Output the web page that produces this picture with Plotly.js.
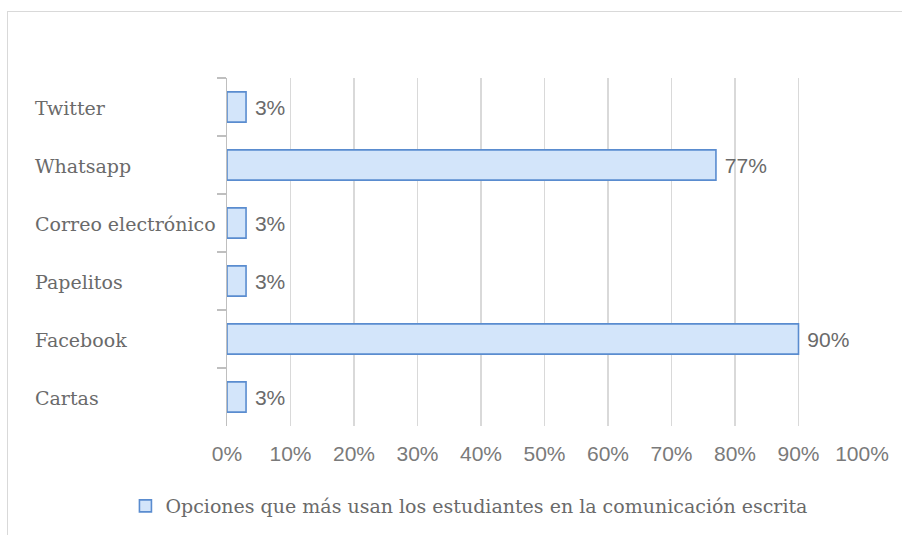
<!DOCTYPE html>
<html>
<head>
<meta charset="utf-8">
<script src="https://cdn.plot.ly/plotly-3.0.1.min.js"></script>
<style>
  html, body { margin: 0; padding: 0; background: #fff; }
  #wrap { position: relative; width: 902px; height: 535px; overflow: hidden; }
  #frame { position: absolute; left: 7px; top: 11px; width: 1000px; height: 1000px; border-left: 1px solid #d9d9d9; border-top: 1px solid #d9d9d9; pointer-events: none; }
  #chart { position: absolute; left: 0; top: 0; width: 902px; height: 535px; }
</style>
</head>
<body>
<div id="wrap">
  <div id="frame"></div>
  <div id="chart"></div>
</div>
<script>
// Data (top to bottom as shown)
const categories = ["Twitter", "Whatsapp", "Correo electrónico", "Papelitos", "Facebook", "Cartas"];
const values = [3, 77, 3, 3, 90, 3];
const seriesName = "Opciones que más usan los estudiantes en la comunicación escrita";
const xTickValues = [0, 10, 20, 30, 40, 50, 60, 70, 80, 90, 100];

const serif = "DejaVu Serif, Liberation Serif, serif";
const sans = "Liberation Sans, Arial, sans-serif";
const grey = "#6a6a6a";
const tickGrey = "#7a7a7a";

const trace = {
  type: "bar",
  orientation: "h",
  y: categories,
  x: values,
  name: seriesName,
  marker: { color: "#d3e5fa", line: { color: "#5a8ccf", width: 1.6 } },
  text: values.map(v => "\u00a0" + v + "%"),
  textposition: "outside",
  cliponaxis: false,
  textfont: { family: sans, size: 21, color: grey },
  showlegend: true,
  hoverinfo: "none"
};

const annotations = categories.map(c => ({
  xref: "paper", yref: "y",
  x: -0.3055, y: c,
  xanchor: "left", yanchor: "middle",
  yshift: -1,
  text: c, showarrow: false,
  font: { family: serif, size: 19, color: grey }
}));

const layout = {
  width: 902, height: 535,
  paper_bgcolor: "rgba(0,0,0,0)",
  plot_bgcolor: "rgba(0,0,0,0)",
  margin: { l: 227, r: 40, t: 78, b: 109, autoexpand: false },
  bargap: 0.48,
  xaxis: {
    range: [0, 100],
    tickvals: xTickValues,
    ticktext: xTickValues.map(v => v + "%"),
    showgrid: true, gridcolor: "#d9d9d9", gridwidth: 1.5,
    zeroline: false, showline: false,
    ticks: "", ticklabelstandoff: 13,
    tickfont: { family: sans, size: 21, color: tickGrey },
    fixedrange: true
  },
  yaxis: {
    type: "category",
    autorange: "reversed",
    showticklabels: false,
    showgrid: false, zeroline: false,
    showline: true, linecolor: "#bfbfbf", linewidth: 1.2,
    ticks: "outside", tickson: "boundaries", ticklen: 9, tickcolor: "#bfbfbf", tickwidth: 1.2,
    fixedrange: true
  },
  showlegend: true,
  legend: {
    orientation: "h",
    itemwidth: 30,
    x: 0.381, xanchor: "center",
    y: -0.23, yanchor: "middle",
    font: { family: serif, size: 19, color: grey },
    bgcolor: "rgba(0,0,0,0)"
  },
  annotations: annotations
};

Plotly.newPlot("chart", [trace], layout, { displayModeBar: false, staticPlot: true });
</script>
</body>
</html>
